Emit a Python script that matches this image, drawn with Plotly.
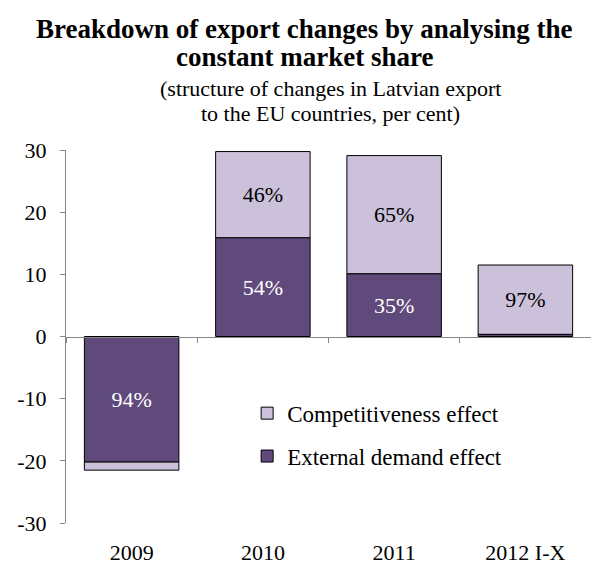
import plotly.graph_objects as go

categories = ["2009", "2010", "2011", "2012 I-X"]
external_demand = [-20.2, 15.9, 10.1, 0.35]
competitiveness = [-1.3, 13.85, 19.0, 11.15]
external_labels = ["94%", "54%", "35%", ""]
competitiveness_labels = ["", "46%", "65%", "97%"]
y_ticks = [-30, -20, -10, 0, 10, 20, 30]
y_tick_labels = ["-30", "-20", "-10", "0", "10", "20", "30"]

DARK = "#604A7B"
LIGHT = "#CCC1DA"
FONT = "Liberation Serif"

fig = go.Figure()
fig.add_trace(go.Bar(
    x=categories, y=external_demand, name="External demand effect",
    marker=dict(color=DARK, line=dict(color="#000000", width=1)),
    text=external_labels, textposition="inside", insidetextanchor="middle",
    textangle=0, textfont=dict(family=FONT, size=22, color="#FFFFFF"),
    insidetextfont=dict(family=FONT, size=22, color="#FFFFFF"),
    legendgroup="b", legendrank=2, hoverinfo="skip",
))
fig.add_trace(go.Bar(
    x=categories, y=competitiveness, name="Competitiveness effect",
    marker=dict(color=LIGHT, line=dict(color="#000000", width=1)),
    text=competitiveness_labels, textposition="inside", insidetextanchor="middle",
    textangle=0, textfont=dict(family=FONT, size=22, color="#000000"),
    insidetextfont=dict(family=FONT, size=22, color="#000000"),
    legendgroup="a", legendrank=1, hoverinfo="skip",
))
# invisible trace for the zero-line category axis
fig.add_trace(go.Scatter(x=categories, y=[0] * len(categories), xaxis="x2",
                         mode="none", showlegend=False, hoverinfo="skip"))

fig.update_layout(
    width=591, height=565,
    margin=dict(l=66, r=0, t=150, b=40),
    paper_bgcolor="white", plot_bgcolor="white",
    barmode="relative", bargap=0.28,
    font=dict(family=FONT, size=22, color="#000000"),
    uniformtext=dict(mode=False),
    showlegend=True,
    legend=dict(x=0.345, y=0.352, xanchor="left", yanchor="top",
                traceorder="grouped", tracegroupgap=10,
                font=dict(family=FONT, size=23, color="#000000"),
                bgcolor="rgba(0,0,0,0)", itemwidth=30),
    xaxis=dict(type="category", categoryorder="array", categoryarray=categories,
               range=[-0.5, 3.5], showline=False, showgrid=False, zeroline=False,
               ticks="outside", ticklen=10, tickcolor="rgba(0,0,0,0)",
               tickfont=dict(family=FONT, size=22, color="#000000")),
    xaxis2=dict(type="category", categoryorder="array", categoryarray=categories,
                overlaying="x", anchor="free", position=0.5,
                range=[-0.5, 3.5], showline=True, linecolor="#868686", linewidth=1,
                ticks="outside", tickson="boundaries", ticklen=5, tickcolor="#868686",
                showticklabels=False, showgrid=False, zeroline=False),
    yaxis=dict(range=[-30, 30], tickvals=y_ticks, ticktext=y_tick_labels,
               showgrid=False, zeroline=False,
               showline=True, linecolor="#868686", linewidth=1,
               ticks="outside", ticklen=5, tickcolor="#868686",
               ticklabelstandoff=9,
               tickfont=dict(family=FONT, size=22, color="#000000")),
    annotations=[
        dict(text="<b>Breakdown of export changes by analysing the</b>",
             xref="paper", yref="paper", x=(304 - 66) / 525, y=(525 - 28) / 375,
             yanchor="middle", showarrow=False,
             font=dict(family=FONT, size=27, color="#000000")),
        dict(text="<b>constant market share</b>",
             xref="paper", yref="paper", x=(304 - 66) / 525, y=(525 - 57) / 375,
             yanchor="middle", showarrow=False,
             font=dict(family=FONT, size=27, color="#000000")),
        dict(text="(structure of changes in Latvian export",
             xref="paper", yref="paper", x=(330 - 66) / 525, y=(525 - 88) / 375,
             yanchor="middle", showarrow=False,
             font=dict(family=FONT, size=22, color="#000000")),
        dict(text="to the EU countries, per cent)",
             xref="paper", yref="paper", x=(330 - 66) / 525, y=(525 - 113) / 375,
             yanchor="middle", showarrow=False,
             font=dict(family=FONT, size=22, color="#000000")),
    ],
)

fig.write_html("out.html")
